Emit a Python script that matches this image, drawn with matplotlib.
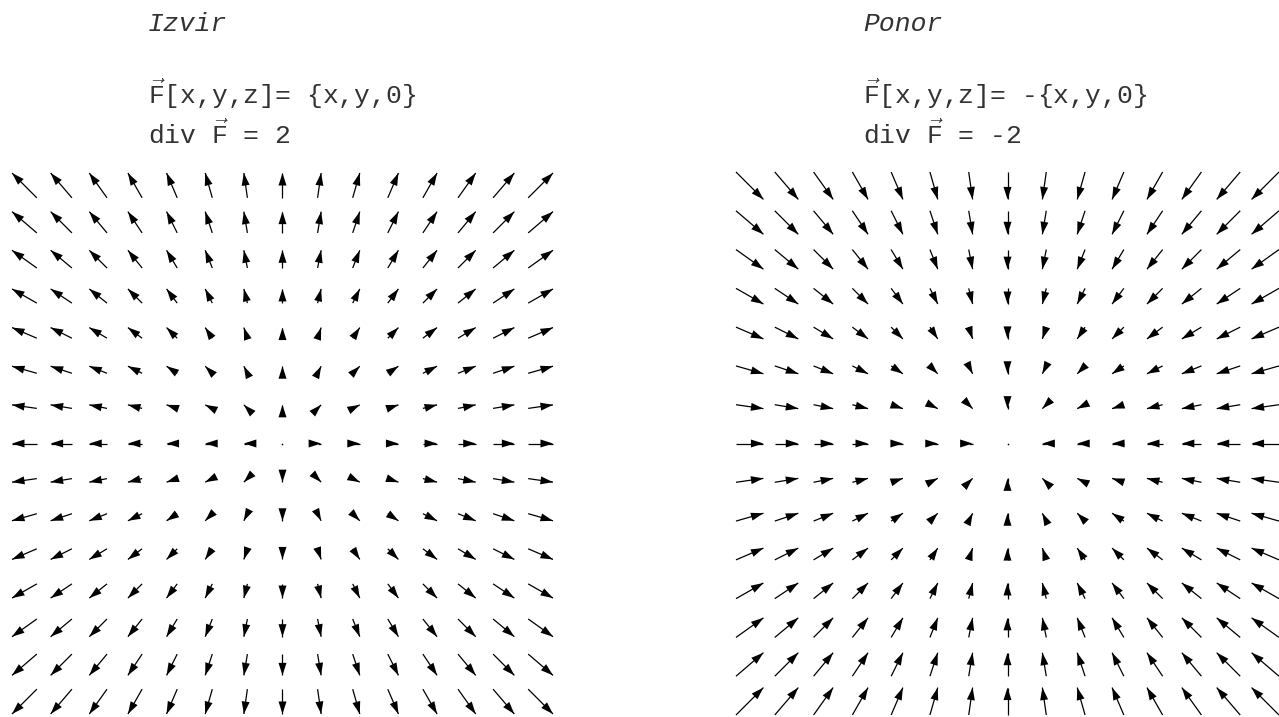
import numpy as np
import matplotlib
matplotlib.use('Agg')
import matplotlib.pyplot as plt
from matplotlib.patches import Polygon
from matplotlib.transforms import ScaledTranslation

plt.rcParams['mathtext.fontset'] = 'custom'
plt.rcParams['mathtext.rm'] = 'Liberation Mono'
plt.rcParams['mathtext.it'] = 'Liberation Mono:italic'

# sample points on each axis
grid = np.arange(-7, 8)

# the two fields: source (+) and sink (-)
titles = ['Izvir', 'Ponor']
formulas = [r'$\vec{\mathrm{F}}$[x,y,z]= {x,y,0}',
            r'$\vec{\mathrm{F}}$[x,y,z]= -{x,y,0}']
divergences = [r'div $\vec{\mathrm{F}}$ = 2', r'div $\vec{\mathrm{F}}$ = -2']
signs = [1, -1]

W, H = 1279, 717
fig = plt.figure(figsize=(W / 100, H / 100), dpi=100)

# axes boxes in pixels: left, top, width, height
boxes = [(12, 173, 541, 541), (736, 172, 543, 543)]
text_x = [148, 863]

HEAD_LEN = 12.5 / 100.0   # inches
HEAD_HALF = 4.0 / 100.0
TEXT_COLOR = '#333333'


def draw_arrow(ax, x0, y0, u, v, k):
    if u == 0 and v == 0:
        ax.plot([x0], [y0], 'o', color='black', ms=1.2, mew=0, clip_on=False)
        return
    x1, y1 = x0 + k * u, y0 + k * v
    ax.plot([x0, x1], [y0, y1], color='black', lw=0.9,
            solid_capstyle='butt', clip_on=False)
    th = np.arctan2(v, u)
    c, s = np.cos(th), np.sin(th)
    verts = [(0, 0),
             (-HEAD_LEN * c - HEAD_HALF * s, -HEAD_LEN * s + HEAD_HALF * c),
             (-HEAD_LEN * c + HEAD_HALF * s, -HEAD_LEN * s - HEAD_HALF * c)]
    trans = fig.dpi_scale_trans + ScaledTranslation(x1, y1, ax.transData)
    ax.add_patch(Polygon(verts, closed=True, transform=trans,
                         facecolor='black', edgecolor='none', clip_on=False))


for title, formula, div, sign, box, tx in zip(titles, formulas, divergences,
                                              signs, boxes, text_x):
    left, top, bw, bh = box
    ax = fig.add_axes([left / W, 1 - (top + bh) / H, bw / W, bh / H])
    X, Y = np.meshgrid(grid, grid)
    U, V = sign * X, sign * Y
    mag = np.hypot(U, V)
    k = 1.0 / mag.max()   # longest arrow spans one grid step
    for x0, y0, u, v in zip(X.ravel(), Y.ravel(), U.ravel(), V.ravel()):
        draw_arrow(ax, x0, y0, u, v, k)
    # outward arrows need extra room at the border
    pad = k * grid.max() if sign > 0 else 0
    ax.set_xlim(grid.min() - pad, grid.max() + pad)
    ax.set_ylim(grid.min() - pad, grid.max() + pad)
    ax.axis('off')

    fig.text(tx / W, 1 - 31 / H, title, fontsize=19, style='italic',
             family='Liberation Mono', color=TEXT_COLOR, va='baseline')
    fig.text(tx / W, 1 - 104 / H, formula, fontsize=19,
             family='Liberation Mono', color=TEXT_COLOR, va='baseline')
    fig.text(tx / W, 1 - 144 / H, div, fontsize=19,
             family='Liberation Mono', color=TEXT_COLOR, va='baseline')

fig.savefig('out.png', dpi=100)
